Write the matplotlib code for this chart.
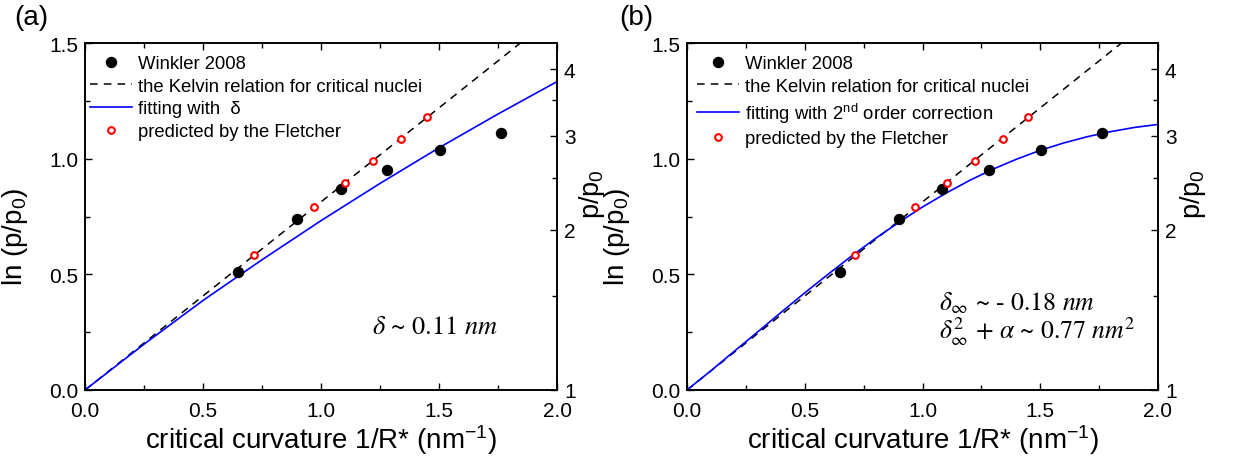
import numpy as np
import matplotlib
matplotlib.use("Agg")
import matplotlib.pyplot as plt
from matplotlib.ticker import FixedLocator, MultipleLocator

plt.rcParams['font.family'] = ['Liberation Sans', 'DejaVu Sans']
plt.rcParams['mathtext.fontset'] = 'custom'
plt.rcParams['mathtext.rm'] = 'Liberation Sans'
plt.rcParams['mathtext.it'] = 'Liberation Sans:italic'
plt.rcParams['mathtext.bf'] = 'Liberation Sans:bold'

# ---- data ----
winkler_x = [0.648, 0.900, 1.083, 1.281, 1.503, 1.761]
winkler_y = [0.511, 0.741, 0.868, 0.952, 1.037, 1.112]

fletcher_x = [0.715, 0.970, 1.103, 1.222, 1.341, 1.449]
fletcher_y = [0.585, 0.790, 0.895, 0.990, 1.087, 1.182]

kelvin_x = [0.0, 2.0]
kelvin_y = [0.0, 1.626]

fit_a_x = [0.0, 0.25, 0.5, 0.75, 1.0, 1.25, 1.5, 1.75, 2.0]
fit_a_y = [0.0, 0.198, 0.387, 0.563, 0.732, 0.893, 1.047, 1.193, 1.333]

fit_b_x = [0.0, 0.1, 0.2, 0.3, 0.4, 0.5, 0.6, 0.7, 0.8, 0.9, 1.0,
           1.1, 1.2, 1.3, 1.4, 1.5, 1.6, 1.7, 1.8, 1.9, 2.0]
fit_b_y = [0.0, 0.082, 0.167, 0.251, 0.336, 0.420, 0.501, 0.580, 0.655, 0.725, 0.791,
           0.851, 0.906, 0.955, 0.998, 1.036, 1.068, 1.095, 1.117, 1.135, 1.148]

right_ticks = [1, 2, 3, 4]
right_minor = [1.5, 2.5, 3.5]

legend_a = ['Winkler 2008', 'the Kelvin relation for critical nuclei',
            'fitting with  \u03b4', 'predicted by the Fletcher']
legend_b = ['Winkler 2008', 'the Kelvin relation for critical nuclei',
            r'fitting with 2$^{\mathrm{nd}}$ order correction', 'predicted by the Fletcher']

W, H = 1233, 464
fig = plt.figure(figsize=(W / 100, H / 100), dpi=100)

panels = [
    dict(left=85, right=557, fit_x=fit_a_x, fit_y=fit_a_y, labels=legend_a,
         leg_dx=5, tag='(a)', tag_x=31),
    dict(left=687, right=1158, fit_x=fit_b_x, fit_y=fit_b_y, labels=legend_b,
         leg_dx=10, tag='(b)', tag_x=636),
]
top_px, bot_px = 44, 391

for i, p in enumerate(panels):
    w = p['right'] - p['left']
    h = bot_px - top_px
    ax = fig.add_axes([p['left'] / W, (H - bot_px) / H, w / W, h / H])
    ax.set_xlim(0, 2)
    ax.set_ylim(0, 1.5)

    h1, = ax.plot(winkler_x, winkler_y, 'o', color='black', ms=7.2, zorder=5,
                  label=p['labels'][0])
    h2, = ax.plot(kelvin_x, kelvin_y, '--', color='black', lw=1.1, dashes=(5, 4),
                  label=p['labels'][1], zorder=3)
    h3, = ax.plot(p['fit_x'], p['fit_y'], '-', color='#0000ff', lw=1.2,
                  label=p['labels'][2], zorder=4)
    h4, = ax.plot(fletcher_x, fletcher_y, 'o', mfc='white', mec='red', mew=1.5, ms=4.8,
                  label=p['labels'][3], zorder=6)

    ax.xaxis.set_major_locator(MultipleLocator(0.5))
    ax.xaxis.set_minor_locator(MultipleLocator(0.25))
    ax.yaxis.set_major_locator(MultipleLocator(0.5))
    ax.yaxis.set_minor_locator(MultipleLocator(0.25))
    ax.xaxis.set_major_formatter(matplotlib.ticker.FormatStrFormatter('%.1f'))
    ax.yaxis.set_major_formatter(matplotlib.ticker.FormatStrFormatter('%.1f'))
    ax.tick_params(which='both', direction='in', top=True, right=False,
                   labelsize=15, width=1.0)
    ax.tick_params(which='major', length=5, pad=5)
    ax.tick_params(axis='x', which='major', pad=8)
    ax.tick_params(which='minor', length=3.5)
    for s in ax.spines.values():
        s.set_linewidth(1.2)

    ax.set_xlabel('critical curvature 1/R* (nm$^{-1}$)', fontsize=20)
    ax.xaxis.set_label_coords(0.5, -(440 - bot_px) / h)
    ax.xaxis.label.set_verticalalignment('center')
    ax.set_ylabel('ln (p/p$_0$)', fontsize=20)
    ax.yaxis.set_label_coords(-70 / w, (bot_px - 237) / h)
    ax.yaxis.label.set_verticalalignment('center')

    ax2 = ax.twinx()
    ax2.set_ylim(0, 1.5)
    ax2.yaxis.set_major_locator(FixedLocator(np.log(right_ticks)))
    ax2.yaxis.set_minor_locator(FixedLocator(np.log(right_minor)))
    ax2.set_yticklabels([str(t) for t in right_ticks])
    ax2.tick_params(which='both', direction='in', labelsize=15, width=1.0)
    ax2.tick_params(which='major', length=5, pad=5)
    ax2.tick_params(which='minor', length=3.5)
    for s in ax2.spines.values():
        s.set_linewidth(1.2)
    ax2.set_ylabel('p/p$_0$', fontsize=19.5, rotation=90)
    ax2.yaxis.set_label_coords(1 + 35 / w, (bot_px - 194) / h)
    ax2.yaxis.label.set_verticalalignment('center')

    ax.legend(handles=[h1, h2, h3, h4], loc='upper left',
              bbox_to_anchor=(p['leg_dx'] / w, 1 - 12 / h),
              frameon=False, fontsize=13.3, borderpad=0, borderaxespad=0,
              handlelength=2.3, handletextpad=0.3, labelspacing=0.31,
              numpoints=1)

    fig.text(p['tag_x'] / W, 1 - 18 / H, p['tag'], fontsize=20, ha='center', va='center')

    if i == 0:
        ax.text(1.217, 0.271, r'$\delta$ ~ 0.11 $nm$', fontsize=19,
                ha='left', va='center', family='STIXGeneral', math_fontfamily='stix')
    else:
        ax.text(1.070, 0.379, r'$\delta_{\infty}$ ~ - 0.18 $nm$', fontsize=18.5,
                ha='left', va='center', family='STIXGeneral', math_fontfamily='stix')
        ax.text(1.070, 0.257, r'$\delta_{\infty}^{2}$ + $\alpha$ ~ 0.77 $nm^{2}$',
                fontsize=18.5, ha='left', va='center', family='STIXGeneral',
                math_fontfamily='stix')

fig.savefig('out.png', dpi=100)
